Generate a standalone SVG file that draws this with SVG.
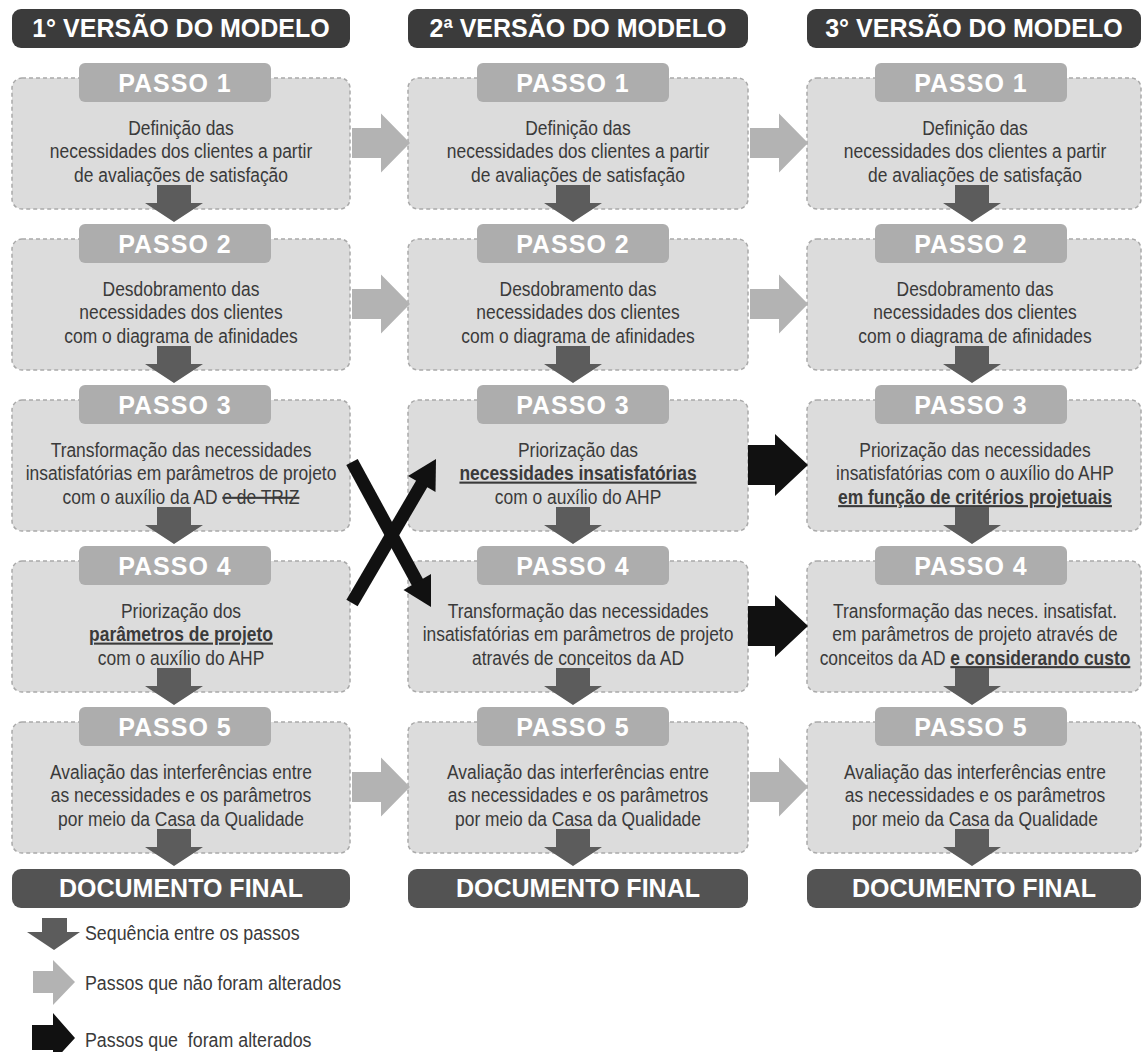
<svg xmlns="http://www.w3.org/2000/svg" xmlns:xlink="http://www.w3.org/1999/xlink" width="1143" height="1052" viewBox="0 0 1143 1052">
<style>
.hdr{fill:#3b3b3b}
.doc{fill:#535353}
.ht{font-family:"Liberation Sans",Arial,sans-serif;font-weight:bold;font-size:25px;fill:#fff;text-anchor:middle}
.box{fill:#dcdcdc;stroke:#a9a9a9;stroke-width:1.5;stroke-dasharray:4 3}
.tab{fill:#adadad}
.tt{font-family:"Liberation Sans",Arial,sans-serif;font-weight:bold;font-size:25px;fill:#fff;text-anchor:middle;letter-spacing:1px}
.bt{font-family:"Liberation Sans",Arial,sans-serif;font-size:21px;fill:#3a3a3a;text-anchor:middle}
.lt{font-family:"Liberation Sans",Arial,sans-serif;font-size:20px;fill:#3a3a3a}
.b{font-weight:bold;text-decoration:underline}
.s{text-decoration:line-through}
.dk{fill:#5c5c5c}
.lg{fill:#b3b3b3}
.bk{fill:#111}
</style>
<defs>
<path id="dn" d="M-17,0 H17 V18 H29 L0,37 L-29,18 H-17 Z"/>
<path id="rt" d="M0,-15 H29 V-29.5 L58,0 L29,29.5 V15 H0 Z"/>
<path id="rtb" d="M0,-20 H27 V-31 L60,0 L27,31 V20 H0 Z"/>
</defs>

<!-- headers -->
<g id="hdr1"><rect class="hdr" x="12" y="9" width="338" height="39" rx="9"/><text class="ht" x="181" y="37">1° VERSÃO DO MODELO</text></g>
<g id="hdr2"><rect class="hdr" x="408" y="9" width="340" height="39" rx="9"/><text class="ht" x="578" y="37">2ª VERSÃO DO MODELO</text></g>
<g id="hdr3"><rect class="hdr" x="807" y="9" width="334" height="39" rx="9"/><text class="ht" x="974" y="37">3° VERSÃO DO MODELO</text></g>

<!-- column 1 -->
<g id="c1p1"><rect class="box" x="12" y="78" width="338" height="131" rx="10"/><rect class="tab" x="79" y="63" width="192" height="39" rx="6"/><text class="tt" x="175" y="92">PASSO 1</text>
<g transform="translate(181,0) scale(0.83,1)"><text class="bt" x="0" y="135">Definição das</text><text class="bt" x="0" y="158.5">necessidades dos clientes a partir</text><text class="bt" x="0" y="182">de avaliações de satisfação</text></g></g>
<g id="c1p2"><rect class="box" x="12" y="239" width="338" height="131" rx="10"/><rect class="tab" x="79" y="224" width="192" height="39" rx="6"/><text class="tt" x="175" y="253">PASSO 2</text>
<g transform="translate(181,0) scale(0.83,1)"><text class="bt" x="0" y="296">Desdobramento das</text><text class="bt" x="0" y="319.5">necessidades dos clientes</text><text class="bt" x="0" y="343">com o diagrama de afinidades</text></g></g>
<g id="c1p3"><rect class="box" x="12" y="400" width="338" height="131" rx="10"/><rect class="tab" x="79" y="385" width="192" height="39" rx="6"/><text class="tt" x="175" y="414">PASSO 3</text>
<g transform="translate(181,0) scale(0.83,1)"><text class="bt" x="0" y="457">Transformação das necessidades</text><text class="bt" x="0" y="480.5">insatisfatórias em parâmetros de projeto</text><text class="bt" x="0" y="504">com o auxílio da AD <tspan class="s">e de TRIZ</tspan></text></g></g>
<g id="c1p4"><rect class="box" x="12" y="561" width="338" height="131" rx="10"/><rect class="tab" x="79" y="546" width="192" height="39" rx="6"/><text class="tt" x="175" y="575">PASSO 4</text>
<g transform="translate(181,0) scale(0.83,1)"><text class="bt" x="0" y="618">Priorização dos</text><text class="bt" x="0" y="641.5"><tspan class="b">parâmetros de projeto</tspan></text><text class="bt" x="0" y="665">com o auxílio do AHP</text></g></g>
<g id="c1p5"><rect class="box" x="12" y="722" width="338" height="131" rx="10"/><rect class="tab" x="79" y="707" width="192" height="39" rx="6"/><text class="tt" x="175" y="736">PASSO 5</text>
<g transform="translate(181,0) scale(0.83,1)"><text class="bt" x="0" y="779">Avaliação das interferências entre</text><text class="bt" x="0" y="802.5">as necessidades e os parâmetros</text><text class="bt" x="0" y="826">por meio da Casa da Qualidade</text></g></g>
<g id="c1doc"><rect class="doc" x="12" y="869" width="338" height="39" rx="9"/><text class="ht" x="181" y="897">DOCUMENTO FINAL</text></g>

<!-- column 2 -->
<g id="c2p1"><rect class="box" x="408" y="78" width="340" height="131" rx="10"/><rect class="tab" x="477" y="63" width="192" height="39" rx="6"/><text class="tt" x="573" y="92">PASSO 1</text>
<g transform="translate(578,0) scale(0.83,1)"><text class="bt" x="0" y="135">Definição das</text><text class="bt" x="0" y="158.5">necessidades dos clientes a partir</text><text class="bt" x="0" y="182">de avaliações de satisfação</text></g></g>
<g id="c2p2"><rect class="box" x="408" y="239" width="340" height="131" rx="10"/><rect class="tab" x="477" y="224" width="192" height="39" rx="6"/><text class="tt" x="573" y="253">PASSO 2</text>
<g transform="translate(578,0) scale(0.83,1)"><text class="bt" x="0" y="296">Desdobramento das</text><text class="bt" x="0" y="319.5">necessidades dos clientes</text><text class="bt" x="0" y="343">com o diagrama de afinidades</text></g></g>
<g id="c2p3"><rect class="box" x="408" y="400" width="340" height="131" rx="10"/><rect class="tab" x="477" y="385" width="192" height="39" rx="6"/><text class="tt" x="573" y="414">PASSO 3</text>
<g transform="translate(578,0) scale(0.83,1)"><text class="bt" x="0" y="457">Priorização das</text><text class="bt" x="0" y="480.5"><tspan class="b">necessidades insatisfatórias</tspan></text><text class="bt" x="0" y="504">com o auxílio do AHP</text></g></g>
<g id="c2p4"><rect class="box" x="408" y="561" width="340" height="131" rx="10"/><rect class="tab" x="477" y="546" width="192" height="39" rx="6"/><text class="tt" x="573" y="575">PASSO 4</text>
<g transform="translate(578,0) scale(0.83,1)"><text class="bt" x="0" y="618">Transformação das necessidades</text><text class="bt" x="0" y="641.5">insatisfatórias em parâmetros de projeto</text><text class="bt" x="0" y="665">através de conceitos da AD</text></g></g>
<g id="c2p5"><rect class="box" x="408" y="722" width="340" height="131" rx="10"/><rect class="tab" x="477" y="707" width="192" height="39" rx="6"/><text class="tt" x="573" y="736">PASSO 5</text>
<g transform="translate(578,0) scale(0.83,1)"><text class="bt" x="0" y="779">Avaliação das interferências entre</text><text class="bt" x="0" y="802.5">as necessidades e os parâmetros</text><text class="bt" x="0" y="826">por meio da Casa da Qualidade</text></g></g>
<g id="c2doc"><rect class="doc" x="408" y="869" width="340" height="39" rx="9"/><text class="ht" x="578" y="897">DOCUMENTO FINAL</text></g>

<!-- column 3 -->
<g id="c3p1"><rect class="box" x="807" y="78" width="334" height="131" rx="10"/><rect class="tab" x="875" y="63" width="192" height="39" rx="6"/><text class="tt" x="971" y="92">PASSO 1</text>
<g transform="translate(975,0) scale(0.83,1)"><text class="bt" x="0" y="135">Definição das</text><text class="bt" x="0" y="158.5">necessidades dos clientes a partir</text><text class="bt" x="0" y="182">de avaliações de satisfação</text></g></g>
<g id="c3p2"><rect class="box" x="807" y="239" width="334" height="131" rx="10"/><rect class="tab" x="875" y="224" width="192" height="39" rx="6"/><text class="tt" x="971" y="253">PASSO 2</text>
<g transform="translate(975,0) scale(0.83,1)"><text class="bt" x="0" y="296">Desdobramento das</text><text class="bt" x="0" y="319.5">necessidades dos clientes</text><text class="bt" x="0" y="343">com o diagrama de afinidades</text></g></g>
<g id="c3p3"><rect class="box" x="807" y="400" width="334" height="131" rx="10"/><rect class="tab" x="875" y="385" width="192" height="39" rx="6"/><text class="tt" x="971" y="414">PASSO 3</text>
<g transform="translate(975,0) scale(0.83,1)"><text class="bt" x="0" y="457">Priorização das necessidades</text><text class="bt" x="0" y="480.5">insatisfatórias com o auxílio do AHP</text><text class="bt" x="0" y="504"><tspan class="b">em função de critérios projetuais</tspan></text></g></g>
<g id="c3p4"><rect class="box" x="807" y="561" width="334" height="131" rx="10"/><rect class="tab" x="875" y="546" width="192" height="39" rx="6"/><text class="tt" x="971" y="575">PASSO 4</text>
<g transform="translate(975,0) scale(0.83,1)"><text class="bt" x="0" y="618">Transformação das neces. insatisfat.</text><text class="bt" x="0" y="641.5">em parâmetros de projeto através de</text><text class="bt" x="0" y="665">conceitos da AD <tspan class="b">e considerando custo</tspan></text></g></g>
<g id="c3p5"><rect class="box" x="807" y="722" width="334" height="131" rx="10"/><rect class="tab" x="875" y="707" width="192" height="39" rx="6"/><text class="tt" x="971" y="736">PASSO 5</text>
<g transform="translate(975,0) scale(0.83,1)"><text class="bt" x="0" y="779">Avaliação das interferências entre</text><text class="bt" x="0" y="802.5">as necessidades e os parâmetros</text><text class="bt" x="0" y="826">por meio da Casa da Qualidade</text></g></g>
<g id="c3doc"><rect class="doc" x="807" y="869" width="334" height="39" rx="9"/><text class="ht" x="974" y="897">DOCUMENTO FINAL</text></g>

<!-- connectors -->
<g id="connectors">
<use href="#dn" class="dk" x="174" y="185"/><use href="#dn" class="dk" x="174" y="346"/><use href="#dn" class="dk" x="174" y="507"/><use href="#dn" class="dk" x="174" y="668"/><use href="#dn" class="dk" x="174" y="829"/>
<use href="#dn" class="dk" x="573" y="185"/><use href="#dn" class="dk" x="573" y="346"/><use href="#dn" class="dk" x="573" y="507"/><use href="#dn" class="dk" x="573" y="668"/><use href="#dn" class="dk" x="573" y="829"/>
<use href="#dn" class="dk" x="972" y="185"/><use href="#dn" class="dk" x="972" y="346"/><use href="#dn" class="dk" x="972" y="507"/><use href="#dn" class="dk" x="972" y="668"/><use href="#dn" class="dk" x="972" y="829"/>
<use href="#rt" class="lg" x="352" y="143"/><use href="#rt" class="lg" x="352" y="304"/><use href="#rt" class="lg" x="352" y="787"/>
<use href="#rt" class="lg" x="750" y="143"/><use href="#rt" class="lg" x="750" y="304"/><use href="#rt" class="lg" x="750" y="787"/>
<use href="#rtb" class="bk" x="748" y="465"/><use href="#rtb" class="bk" x="748" y="626"/>
<line x1="352" y1="603" x2="424" y2="480" stroke="#111" stroke-width="13"/>
<polygon class="bk" points="436,459 435.5,492 408,476"/>
<line x1="352" y1="462" x2="420" y2="587" stroke="#111" stroke-width="13"/>
<polygon class="bk" points="431,607 403.5,590 431,574"/>
</g>

<!-- legend -->
<g id="legend">
<path class="dk" d="M42,918 H67 V932 H80 L54,950 L27,932 H42 Z"/>
<text class="lt" transform="translate(85,0) scale(0.89,1)" x="0" y="940">Sequência entre os passos</text>
<path class="lg" d="M33,971 H53 V960 L75,982 L53,1005 V993 H33 Z"/>
<text class="lt" transform="translate(85,0) scale(0.89,1)" x="0" y="990">Passos que não foram alterados</text>
<path class="bk" d="M32,1025 H53 V1013 L75,1038 L53,1062 V1050 H32 Z"/>
<text class="lt" transform="translate(85,0) scale(0.89,1)" x="0" y="1047">Passos que&#160; foram alterados</text>
</g>
</svg>
